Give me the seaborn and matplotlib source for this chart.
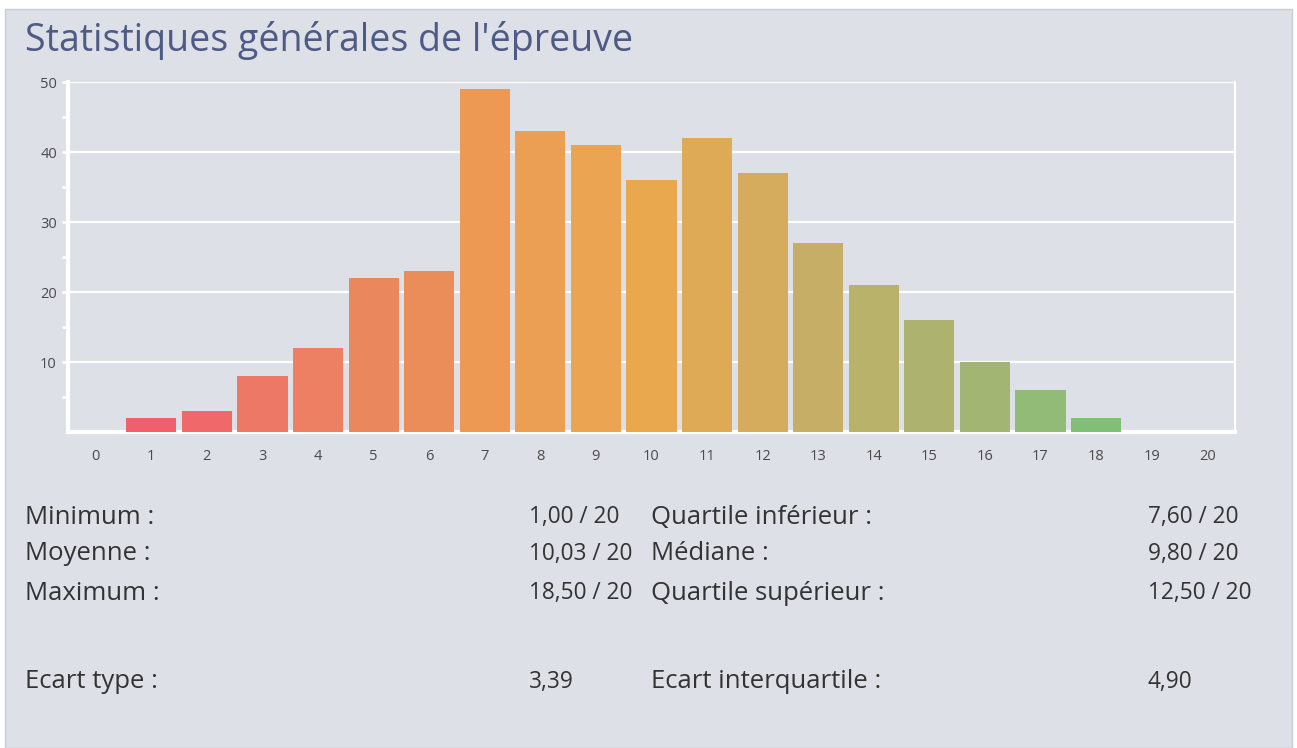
import matplotlib
matplotlib.use("Agg")
import matplotlib.pyplot as plt
import seaborn as sns
import pandas as pd
from matplotlib.patches import Rectangle

notes = [str(i) for i in range(21)]
counts = [0, 2, 3, 8, 12, 22, 23, 49, 43, 41, 36, 42, 37, 27, 21, 16, 10, 6, 2, 0, 0]
bar_colors = ["#f05c68", "#f0606a", "#f0686a", "#ee7866", "#ed8062", "#eb875d", "#ea8d59",
              "#ed9853", "#eb9f54", "#eba452", "#eaa84e", "#dfaa55", "#d5ab5d", "#c6ae66",
              "#b8b26b", "#adb36f", "#a3b573", "#91bb77", "#80c076", "#78c074", "#78c074"]
yticks = [10, 20, 30, 40, 50]

title = "Statistiques générales de l'épreuve"
stats_left_labels = ["Minimum :", "Moyenne :", "Maximum :", "Ecart type :"]
stats_left_values = ["1,00 / 20", "10,03 / 20", "18,50 / 20", "3,39"]
stats_right_labels = ["Quartile inférieur :", "Médiane :", "Quartile supérieur :", "Ecart interquartile :"]
stats_right_values = ["7,60 / 20", "9,80 / 20", "12,50 / 20", "4,90"]

sns.set_theme(style="white")
plt.rcParams['font.family'] = ['Open Sans', 'DejaVu Sans']

W, H = 1297, 748
PANEL = "#dde0e6"
fig = plt.figure(figsize=(W / 100, H / 100), dpi=100, facecolor="white")
fig.patches.append(Rectangle((5 / W, 0), (1292 - 5) / W, (H - 9) / H, transform=fig.transFigure,
                             facecolor=PANEL, edgecolor="#c8ccd4", linewidth=1.0, zorder=-10))

ax = fig.add_axes([68 / W, 1 - 432 / H, (1235 - 68) / W, (432 - 82) / H])
ax.set_zorder(5)
ax.set_facecolor(PANEL)

df = pd.DataFrame({"note": notes, "count": counts})
sns.barplot(data=df, x="note", y="count", hue="note", palette=bar_colors, order=notes,
            legend=False, width=0.9, saturation=1, linewidth=0, ax=ax, zorder=3)

ax.set_xlim(-0.5, 20.5)
ax.set_ylim(0, 50)
ax.set_yticks(yticks)
ax.set_yticks([5, 15, 25, 35, 45], minor=True)
ax.set_xlabel("")
ax.set_ylabel("")
ax.grid(axis="y", color="white", linewidth=1.6, zorder=1)
ax.set_axisbelow(True)

for s in ["left", "bottom"]:
    ax.spines[s].set_visible(True)
    ax.spines[s].set_color("white")
    ax.spines[s].set_linewidth(3)
ax.spines["right"].set_visible(True)
ax.spines["right"].set_color("white")
ax.spines["right"].set_linewidth(1.5)
ax.spines["top"].set_visible(False)

ax.tick_params(axis="y", which="both", left=True, color="white", length=4, width=2,
               labelsize=10.5, labelcolor="#4a4a4a", pad=4)
ax.tick_params(axis="x", bottom=False, labelsize=10.5, labelcolor="#4a4a4a", pad=6)

fig.text(25 / W, 1 - 40 / H, title, fontsize=27, color="#4d5b86", va="center", ha="left")

rows_y = [517, 554, 593, 682]
for i, y in enumerate(rows_y):
    yy = 1 - y / H
    lab = dict(fontsize=18.5, color="#333333", va="center")
    val = dict(fontsize=16.3, color="#333333", va="center")
    fig.text(25 / W, yy, stats_left_labels[i], ha="left", **lab)
    fig.text(529 / W, yy, stats_left_values[i], ha="left", **val)
    fig.text(651 / W, yy, stats_right_labels[i], ha="left", **lab)
    fig.text(1148 / W, yy, stats_right_values[i], ha="left", **val)

fig.savefig("out.png", dpi=100, facecolor="white")
